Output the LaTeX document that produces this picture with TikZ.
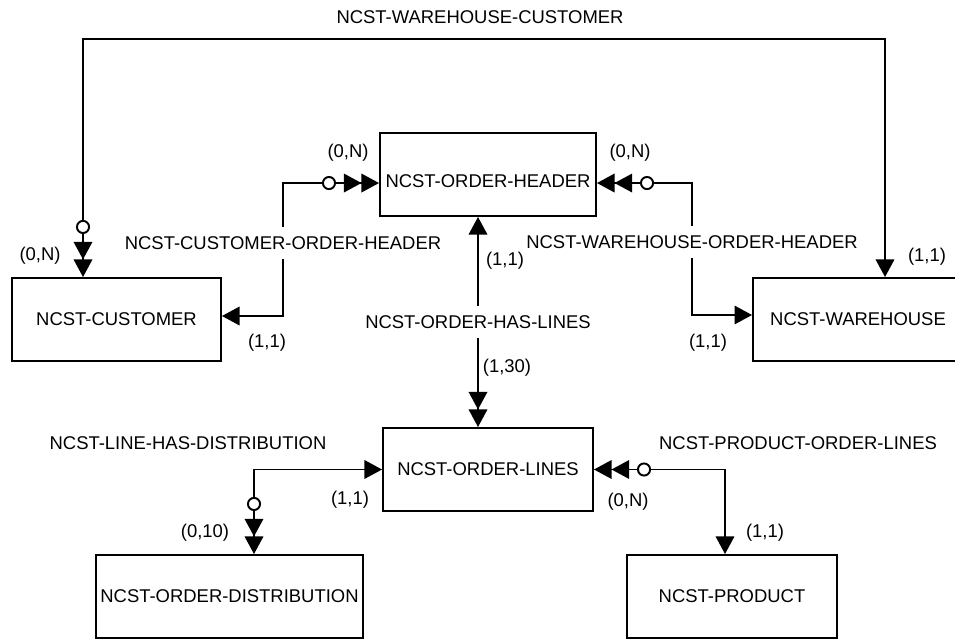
\documentclass[tikz,border=0pt]{standalone}
\usepackage{fontspec}
\setmainfont{Liberation Sans}
\usetikzlibrary{arrows.meta}

\tikzset{
  one/.tip={Triangle[length=10pt,width=10.5pt]},
  many/.tip={Triangle[length=10pt,width=10.5pt] Triangle[length=10pt,width=10.5pt]},
  omany/.tip={Circle[open,fill=white,length=8pt,sep=4.5pt] Triangle[length=10pt,width=10.5pt] Triangle[length=10pt,width=10.5pt]},
}

\begin{document}
\begin{tikzpicture}[x=0.02cm,y=-0.02cm,line width=1.1pt,font=\fontsize{10.5}{12.6}\selectfont]
\tikzstyle{entity}=[draw,line width=1.1pt,minimum height=1.66cm,inner sep=0pt]
\tikzstyle{rel}=[inner xsep=2pt,inner ysep=5pt]
\tikzstyle{card}=[inner sep=1pt]

	\clip (0,0) rectangle (955,638);

	% entities
	\node[entity,minimum width=4.32cm,text height=15pt,text depth=0pt] (hdr) at (488,174.5) {NCST-ORDER-HEADER};
	\node[entity,minimum width=4.18cm] (cust) at (116.5,319.5) {NCST-CUSTOMER};
	\node[entity,minimum width=4.2cm] (wh) at (858,319.5) {NCST-WAREHOUSE};
	\node[entity,minimum width=4.2cm] (lines) at (488,469.5) {NCST-ORDER-LINES};
	\node[entity,minimum width=5.34cm] (dist) at (229.5,596.5) {NCST-ORDER-DISTRIBUTION};
	\node[entity,minimum width=4.2cm] (prod) at (732,596.5) {NCST-PRODUCT};

	% relationship names
	\node[rel] (wclbl) at (480,17) {NCST-WAREHOUSE-CUSTOMER};
	\node[rel] (chlbl) at (283,243) {NCST-CUSTOMER-ORDER-HEADER};
	\node[rel] (whlbl) at (692,242) {NCST-WAREHOUSE-ORDER-HEADER};
	\node[rel] (hllbl) at (478,322) {NCST-ORDER-HAS-LINES};
	\node[rel] (ldlbl) at (188,443) {NCST-LINE-HAS-DISTRIBUTION};
	\node[rel] (pllbl) at (798,443) {NCST-PRODUCT-ORDER-LINES};

	\coordinate (wcl) at (83,39);
	\coordinate (wcr) at (885,39);
	\coordinate (ldc) at (254,469.5);
	\coordinate (plc) at (725,469.5);

	% connectors
	\draw[{omany}-{one}] (wcl |- cust.north) -- (wcl) -- (wcr) -- (wcr |- wh.north);
	\draw[{omany}-] (hdr.mid west) -| (chlbl.north);
	\draw[-{one}] (chlbl.south) |- ([yshift=0.07cm]cust.east);
	\draw[{omany}-] (hdr.mid east) -| (whlbl.north);
	\draw[-{one}] (whlbl.south) |- ([yshift=0.09cm]wh.west);
	\draw[{one}-] (hllbl.north |- hdr.south) -- (hllbl.north);
	\draw[-{many}] (hllbl.south) -- (hllbl.south |- lines.north);
	\draw[{omany}-{one}] (ldc |- dist.north) |- (lines.west);
	\draw[{one}-{omany}] (plc |- prod.north) |- (lines.east);

	% cardinalities
	\node[card] (cwc1) at (40,256) {(0,N)};
	\node[card] (cwc2) at (927,257) {(1,1)};
	\node[card] (cch1) at (348,153) {(0,N)};
	\node[card] (cch2) at (267,343) {(1,1)};
	\node[card] (cwh1) at (630,153) {(0,N)};
	\node[card] (cwh2) at (708,343) {(1,1)};
	\node[card] (chl1) at (505,261) {(1,1)};
	\node[card] (chl2) at (507,368) {(1,30)};
	\node[card] (cld1) at (350,500) {(1,1)};
	\node[card] (cld2) at (205,533) {(0,10)};
	\node[card] (cpl1) at (628,502) {(0,N)};
	\node[card] (cpl2) at (765,533) {(1,1)};

\end{tikzpicture}
\end{document}
